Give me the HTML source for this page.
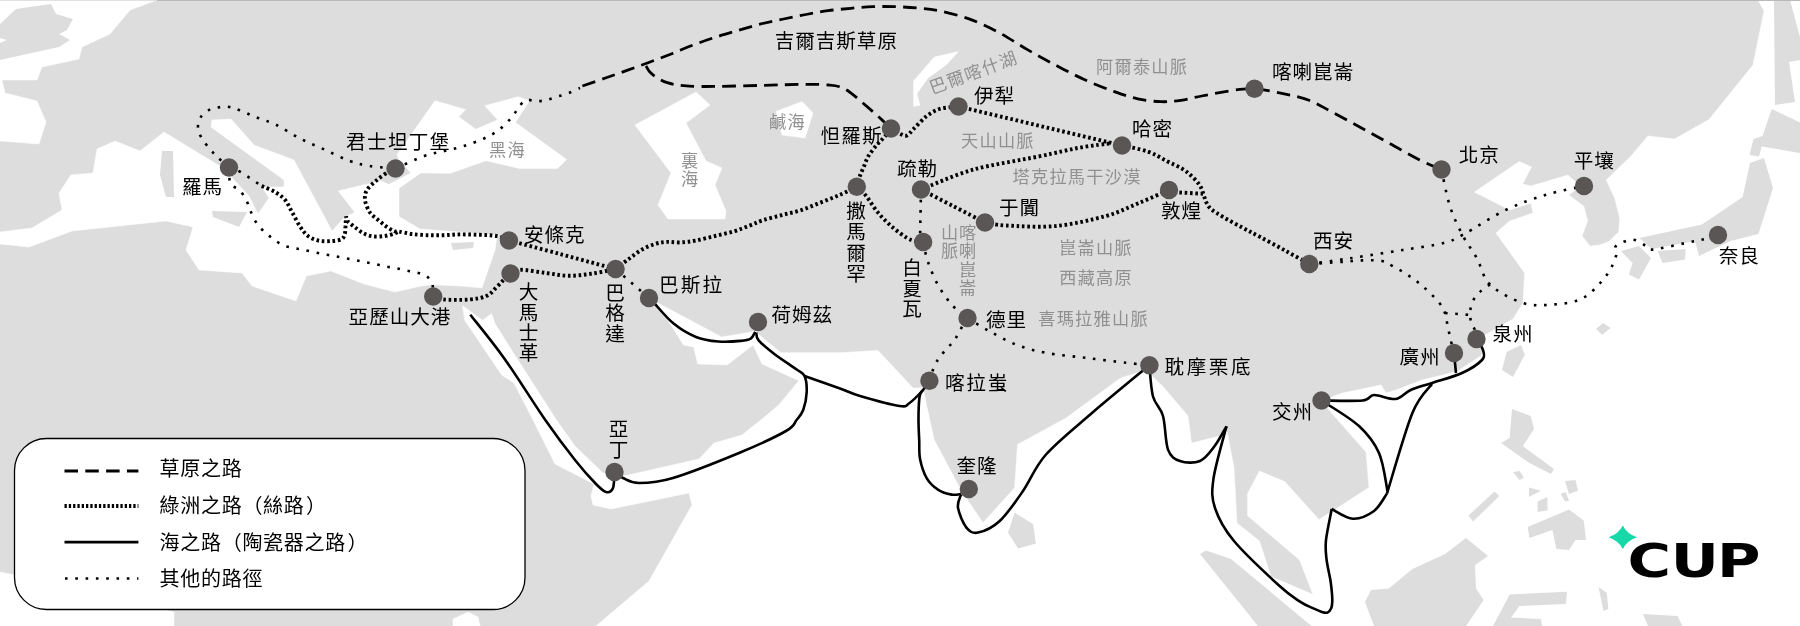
<!DOCTYPE html>
<html lang="zh-Hant"><head><meta charset="utf-8"><title>絲綢之路</title>
<style>html,body{margin:0;padding:0;background:#fff;overflow:hidden}svg{display:block;will-change:transform}</style></head>
<body>
<svg width="1800" height="626" viewBox="0 0 1800 626">
<rect width="1800" height="626" fill="#dddddd"/>
<g fill="#fff" stroke="#fff" stroke-width="0.5" stroke-linejoin="round">
<polygon points="0,0 157,0 130,10 110,34 82,47 79,59 42,67 37,80 2,80 5,93 37,101 46,122 39,144 0,141"/>
<polygon points="0,232 32,228 62,210 59,193 71,175 93,173 97,149 115,141 140,151 164,132 223,168 249,196 258,214 269,198 262,187 284,187 284,180 211,127 212,120 231,119 254,145 294,160 332,231 345.3,216.5 354.9,212.6 338.3,190.9 381,180.7 388.8,184.5 399,188.3 399,216.5 420,229 499,235 497,236 495,250 482,287.8 460,286 432.5,284.7 420,286.3 395,292 363.9,283.9 331,271 306.4,275.9 296,301 252,286 242,273 199,270 186,250 193,227 166,221 72,231 29,247 0,244"/>
<polygon points="397,154.5 435,100.7 465.6,109.6 458.7,116.8 475.8,129.3 497.6,119.8 484.8,105.8 518,96.8 529.5,100.7 515.5,122.4 566.6,159.5 557.6,168.4 519.3,168.4 486,160.7 450.3,173.3 420.7,173 399,188.3 388.8,184.5 410.8,173 399,159.6"/>
<polygon points="635,125 696,92 710,105 686,123 706,161 722,168 715,185 726,211 725,219 668,219 658,205 671,173"/>
<polygon points="776,111.5 802,101.5 813,113 805,138 782,135"/>
<polygon points="913.6,106.6 913.6,81 934.3,57 958.3,51.6 947,64.3 928,78 916.8,93.9 920,105"/>
<polygon points="462.5,305.7 482.6,320.3 491.6,313.6 495,323.6 514,353.8 556.5,420 575,446 603,473 594,484 555,464 533,420 514,383 501.7,375 464.7,320.3"/>
<polygon points="653,300 656.8,302.4 721.7,337 751.9,331.9 757,330 758.6,340 753,345 727.2,365 697.7,363.9 693.7,347 683.6,344.9 657.9,304.6"/>
<polygon points="596,626 649,581 692,505 689,493 611,509 593,505 591,496 594,484 603,473 624,476 699,459 714,443 742,435 760.8,420 778.7,405 798.8,380.7 762,363.9 753,345 756.3,332.6 781,352.7 840,352.7 878,350.5 913,388 923,388 934,439.5 961.5,491 983,522.7 1014.6,487.8 1017.5,444.5 1066,418 1120.5,378 1142,371.4 1149,373 1163,386.5 1188,416 1191.5,443 1219.7,436 1226,426 1234,468 1237,523 1259.5,541 1271,576.6 1313,594.4 1299.6,560 1247.6,515.7 1247.6,493.5 1259.5,471 1284.7,481.6 1319,519.6 1369,487.5 1366,452 1336,418 1321,400.8 1342.6,393 1381,385 1386,393 1396,390 1422,380 1457,371.5 1482,355 1485,335 1513,319 1523,303 1524.6,273 1496,233 1509.6,221 1533,213 1531,203 1509.6,210 1474.5,192 1519.3,161.5 1531.5,167 1522.5,184 1531,186 1568,175 1580,186 1569,195 1584,206.5 1587.7,221 1582,236 1590,246 1599.6,245 1609,241.4 1618.8,231.8 1619.7,218.4 1615,199 1606.3,180 1631,156 1648,136 1674.4,139 1709,119.6 1753,65 1764,11 1758,0 1800,0 1800,626"/>
<polygon points="0,572 40,580 174,612 174,626 0,626"/>
<polygon points="453,619 468,612 478,617 480,626 453,626"/>
</g>
<g fill="#dddddd">
<polygon points="0,24 16,9 51,4 56,14 73,19 67,30 59,34 70,40 59,47 0,60 0,43 7,40 0,38"/>
<polygon points="162,151 173,151 174,197 166,197 160,175"/>
<polygon points="212,211 247,212 239,227 213,217"/>
<polygon points="451,243 474,242 473,248 453,250"/>
<polygon points="1014.6,512.7 1033,524 1036,543.6 1018,548.6 1008,532.6"/>
<polygon points="1200,554 1206,550.5 1231,559 1311.5,626 1258,626"/>
<polygon points="1365,602 1371,590 1388.7,588.5 1412.5,569 1445,554 1466,538 1488,556 1475,565 1476,588.5 1483.7,600 1466,626 1374,626"/>
<polygon points="1468.5,515.5 1494.5,491.5 1499.5,496 1473,521.5"/>
<polygon points="1506.7,352 1521,345 1524.8,354.7 1513,377 1502,370"/>
<polygon points="1596,329 1603,323 1610.7,328 1602,334.7"/>
<polygon points="1512,409 1530.7,416 1534,429 1522.8,446 1554,469 1550.8,474 1529,462.8 1501,443 1509.6,438"/>
<polygon points="1513,472 1519.5,471 1524,477.6 1519.5,480"/>
<polygon points="1529,487.5 1541,490.8 1529,497"/>
<polygon points="1565,481 1575.5,480 1578,490.8 1569,494"/>
<polygon points="1560.7,494 1565.6,492 1569,500.7 1565,501.6"/>
<polygon points="1537.6,501.6 1547.5,497 1547.5,510.5 1537.6,512"/>
<polygon points="1527.7,527 1569,509.5 1583.7,520.4 1586,540 1575.5,540 1569,550 1556.4,549 1552.4,530 1529.4,537.9"/>
<polygon points="1509.6,594.5 1567,591.8 1566,604 1519.5,606 1511,617.5 1541,619 1542,626 1493,626"/>
<polygon points="1598.5,587 1606.7,592.8 1608.4,609 1603.5,611"/>
<polygon points="1643,614 1677.5,616 1682.5,626 1648,626"/>
<polygon points="1621,251 1639,246 1651,258 1639,279.5 1629,274.5 1632.6,263"/>
<polygon points="1657.5,251 1685.7,249 1685,259.6 1662.5,263"/>
<polygon points="1750,163 1763.9,158 1773,188 1758.4,234 1730.4,241 1711.4,250 1699,256 1695,241 1651.6,249 1639.4,238 1702,224.5 1742.7,197"/>
<polygon points="1771.7,109 1800,122.6 1800,153 1761.7,146.5 1759,156.6 1749.5,155 1753.5,139 1762.5,136"/>
<polygon points="1774,0 1790,0 1800,37 1800,60 1789,62 1795,102 1775,105"/>
</g>
<rect x="0" y="0" width="157" height="1" fill="#e0e1e1"/><rect x="157" y="0" width="1643" height="1" fill="#b6baba"/>
<g fill="none" stroke="#000">
<path stroke-width="2.8" stroke-dasharray="13.5 7.3" d="M582.4,86C586.1,84.7 597.3,80.9 604.7,78.3C612.1,75.7 619.5,73.1 627,70.4C634.5,67.7 641.9,65.0 649.4,62.2C656.9,59.4 664.4,56.6 671.8,53.7C679.2,50.8 686.5,47.5 694,44.7C701.5,41.9 709.0,39.3 716.5,36.9C724.0,34.5 731.5,32.4 738.9,30.2C746.3,28.0 753.5,25.8 761,23.9C768.5,22.0 776.1,20.6 783.6,19C791.1,17.4 798.6,15.9 806,14.5C813.4,13.1 820.5,11.7 828,10.7C835.5,9.7 843.2,9.0 850.7,8.3C858.2,7.6 865.5,7.0 873,6.7C880.5,6.4 887.9,6.5 895.4,6.7C902.9,6.9 910.3,7.3 917.7,8C925.1,8.7 931.5,9.2 940,11C948.5,12.8 959.3,15.4 969,18.9C978.7,22.4 988.3,26.9 998,32C1007.7,37.1 1017.3,43.8 1027,49.4C1036.7,55.0 1046.3,60.3 1056,65.4C1065.7,70.5 1075.6,75.6 1085.3,80C1095.0,84.4 1105.7,88.5 1114.4,91.6C1123.1,94.7 1129.9,97.1 1137.7,98.8C1145.5,100.5 1153.8,101.5 1161,101.7C1168.2,102.0 1174.2,101.2 1181,100.3C1187.8,99.3 1193.3,97.6 1201.6,96C1209.9,94.4 1221.9,91.9 1230.7,90.7C1239.5,89.5 1245.8,88.2 1254.5,88.7C1263.2,89.2 1273.9,91.7 1283,93.6C1292.1,95.5 1300.8,97.2 1309,100.3C1317.2,103.4 1323.2,107.4 1332,112C1340.8,116.6 1351.7,122.7 1361.5,128C1371.3,133.3 1380.9,138.7 1390.6,144C1400.3,149.3 1411.2,155.8 1419.7,160C1428.2,164.2 1437.9,167.9 1441.5,169.5"/>
<path stroke-width="2.8" stroke-dasharray="13.5 7.3" d="M646,66C646.6,66.9 647.7,69.7 649.4,71.5C651.1,73.3 653.0,75.1 656,77C659.0,78.9 662.8,81.3 667.3,82.7C671.8,84.1 676.7,85.0 683,85.6C689.3,86.2 692.0,86.5 705,86.5C718.0,86.5 744.2,85.8 761,85.4C777.8,85.0 794.8,84.4 806,84.3C817.2,84.2 822.4,84.6 828,85C833.6,85.4 835.7,85.4 839.5,86.7C843.3,88.0 845.1,88.6 850.7,92.8C856.3,97.0 867.5,107.0 873,111.8C878.5,116.6 881.0,119.0 884,121.8C887.0,124.6 889.8,127.4 891,128.5"/>
<path stroke-width="3.9" stroke-dasharray="2.6 2.73" stroke-linejoin="bevel" d="M261.7,186C263.9,187.0 271.1,189.7 275,192C278.9,194.3 282.2,196.5 285,199.8C287.8,203.1 289.5,207.6 292,212C294.5,216.4 297.3,222.4 300,226.4C302.7,230.4 304.8,233.6 308,236C311.2,238.4 315.2,240.0 319.2,240.8C323.2,241.6 328.3,241.3 332,241C335.7,240.7 339.4,240.3 341.5,239.2C343.6,238.1 344.0,236.5 344.7,234.4C345.4,232.3 345.4,227.7 345.5,226.4L346,216.5L347.9,221.6C349.2,222.7 353.2,226.0 355.9,228C358.6,230.0 361.0,232.2 363.9,233.6C366.8,235.0 369.9,236.0 373.4,236.4C376.8,236.8 381.1,236.5 384.6,236C388.1,235.5 391.8,234.3 394.2,233.6C396.6,232.8 398.2,231.8 399,231.5"/>
<path stroke-width="3.9" stroke-dasharray="2.6 2.73" stroke-linejoin="bevel" d="M395.5,168.5C394.5,168.9 392.6,169.1 389.5,171C386.4,172.9 380.8,176.8 377,180C373.2,183.2 369.0,186.7 367,190C365.0,193.3 364.6,196.1 365,199.8C365.4,203.5 367.4,208.6 369.6,212C371.8,215.4 375.4,217.6 378.2,220C381.0,222.4 383.5,224.5 386.2,226.4C388.9,228.3 392.1,230.3 394.2,231.2C396.3,232.0 396.1,231.0 399,231.5C401.9,232.0 407.0,233.4 411.8,234C416.6,234.6 422.4,235.0 427.7,235.2C433.0,235.4 438.3,235.3 443.7,235.2C449.1,235.1 453.1,234.4 460,234.4C466.9,234.4 478.5,234.7 485,235C491.5,235.3 495.0,235.6 499,236.5C503.0,237.4 507.3,239.8 509,240.5"/>
<path stroke-width="3.9" stroke-dasharray="2.6 2.73" stroke-linejoin="bevel" d="M509,240.5C517.5,242.8 542.2,249.2 560,254C577.8,258.8 606.3,266.5 615.6,269"/>
<path stroke-width="3.9" stroke-dasharray="2.6 2.73" stroke-linejoin="bevel" d="M433.2,296.5C435.1,297.0 438.4,299.0 444.4,299.5C450.4,300.0 462.2,300.1 469.3,299.5C476.4,298.9 482.1,297.9 486.7,295.8C491.3,293.7 493.8,289.7 496.7,287C499.6,284.3 501.7,281.9 504,279.6C506.3,277.4 509.4,274.5 510.5,273.5"/>
<path stroke-width="3.9" stroke-dasharray="2.6 2.73" stroke-linejoin="bevel" d="M510.5,273.5C512.2,272.9 515.1,269.9 521,269.8C526.9,269.7 538.0,272.0 546,273C554.0,274.0 561.2,275.7 569,275.8C576.8,275.9 584.7,274.6 592.5,273.5C600.3,272.4 611.8,269.8 615.6,269"/>
<path stroke-width="3.9" stroke-dasharray="2.6 2.73" stroke-linejoin="bevel" d="M615.6,269C617.8,267.3 624.3,262.2 628.7,259C633.1,255.8 637.5,252.0 642,249.5C646.5,247.0 651.4,245.1 655.6,243.8C659.8,242.5 662.9,242.1 667,241.9C671.1,241.7 675.7,242.6 680.5,242.4C685.3,242.2 690.0,241.6 695.8,240.5C701.5,239.4 708.6,237.5 715,236C721.4,234.5 728.2,233.0 734,231.3C739.8,229.6 744.7,227.4 749.5,225.6C754.3,223.8 757.6,222.0 763,220.2C768.4,218.4 775.7,216.7 782,215C788.3,213.3 794.6,212.3 801,210.2C807.4,208.1 814.0,205.1 820.4,202.6C826.8,200.1 833.5,197.6 839.6,195C845.7,192.4 853.9,188.2 856.8,186.8"/>
<path stroke-width="3.9" stroke-dasharray="2.6 2.73" stroke-linejoin="bevel" d="M856.8,186.8C857.2,185.2 858.4,180.2 859.5,177C860.6,173.8 862.0,170.9 863.5,167.5C865.0,164.1 866.1,160.1 868.3,156.3C870.5,152.6 874.1,148.1 876.7,145C879.3,141.9 881.6,140.2 884,137.5C886.4,134.8 889.8,130.0 891,128.5"/>
<path stroke-width="3.9" stroke-dasharray="2.6 2.73" stroke-linejoin="bevel" d="M891,128.5C892.4,129.3 896.9,132.3 899.5,133.5C902.1,134.7 904.2,136.4 906.6,135.6C909.0,134.8 910.6,131.8 913.8,128.7C917.0,125.6 921.8,120.0 925.8,116.8C929.8,113.6 933.8,111.2 937.8,109.6C941.8,108.0 946.3,107.7 949.8,107.2C953.2,106.7 957.0,106.6 958.5,106.5"/>
<path stroke-width="3.9" stroke-dasharray="2.6 2.73" stroke-linejoin="bevel" d="M958.5,106.5L1122,145.5"/>
<path stroke-width="3.9" stroke-dasharray="2.6 2.73" stroke-linejoin="bevel" d="M1122,145.5C1126.3,146.5 1140.5,149.0 1148,151.6C1155.5,154.2 1161.3,158.3 1167,161.2C1172.7,164.1 1178.2,166.3 1182.4,168.9C1186.6,171.5 1189.1,173.8 1192,176.5C1194.9,179.2 1197.7,182.1 1199.6,185C1201.5,187.9 1202.3,190.9 1203.4,193.8C1204.5,196.7 1205.0,199.9 1206.3,202.4C1207.6,204.9 1208.3,206.6 1211,209C1213.7,211.4 1217.5,213.6 1222.6,216.7C1227.7,219.8 1235.6,223.9 1241.8,227.3C1248.0,230.7 1252.8,233.0 1260,236.9C1267.2,240.8 1276.8,246.0 1285,250.5C1293.2,255.0 1305.2,261.8 1309.3,264"/>
<path stroke-width="3.9" stroke-dasharray="2.6 2.73" stroke-linejoin="bevel" d="M921,189.5C929.7,186.2 953.3,175.2 973,169.7C992.7,164.2 1021.2,160.1 1039,156.4C1056.8,152.7 1067.8,149.8 1080,147.6C1092.2,145.4 1106.7,143.9 1112,143.2"/>
<path stroke-width="3.9" stroke-dasharray="2.6 2.73" stroke-linejoin="bevel" d="M921,189.5C926.3,192.2 942.3,200.5 953,206C963.7,211.5 979.7,219.8 985,222.5"/>
<path stroke-width="3.9" stroke-dasharray="2.6 2.73" stroke-linejoin="bevel" d="M985,222.5C988.5,223.0 994.2,224.9 1006,225.5C1017.8,226.1 1039.4,227.6 1056,226C1072.6,224.4 1092.0,219.8 1105.8,216C1119.6,212.2 1128.5,207.3 1139,203C1149.5,198.7 1164.0,192.2 1169,190"/>
<path stroke-width="3.9" stroke-dasharray="2.6 2.73" stroke-linejoin="bevel" d="M1169,190L1178.5,192.4L1203,193.8"/>
<path stroke-width="3.9" stroke-dasharray="2.6 2.73" stroke-linejoin="bevel" d="M856.8,186.8C858.3,188.3 862.5,191.5 866,195.8C869.5,200.1 873.6,207.4 878,212.6C882.4,217.8 887.5,222.8 892.3,227C897.1,231.2 902.6,235.3 906.6,237.7C910.6,240.1 913.2,240.6 916,241.3C918.8,242.0 922.0,241.9 923.2,242"/>
<path stroke-width="2.6" stroke-dasharray="2.6 7.7" d="M229,167.5C226.5,165.2 218.5,158.4 214,153.6C209.5,148.8 204.7,143.0 202,138.6C199.3,134.2 198.2,130.9 198,127.4C197.8,123.9 198.8,120.3 200.6,117.4C202.4,114.5 206.1,111.7 209,110C211.9,108.3 214.8,108.0 218,107.5C221.2,107.0 224.5,106.3 228,106.7C231.5,107.1 234.2,108.2 239,110C243.8,111.8 250.4,114.9 256.7,117.4C263.0,119.9 269.4,121.5 276.6,125C283.8,128.5 292.0,134.4 300,138.5C308.0,142.6 316.5,145.9 324.8,149.7C333.1,153.4 342.2,158.3 349.7,161C357.2,163.7 362.0,164.8 369.6,166C377.2,167.2 391.2,168.1 395.5,168.5"/>
<path stroke-width="2.6" stroke-dasharray="2.6 7.7" d="M395.5,168.5C400.3,166.4 416.2,158.9 424.4,156C432.5,153.1 437.8,152.7 444.4,151C451.0,149.3 457.4,148.1 464,146C470.6,143.9 478.2,141.2 484,138.5C489.8,135.8 494.4,133.3 499,129.8C503.6,126.3 508.1,121.5 511.7,117.3C515.3,113.1 517.9,107.8 520.4,104.9C522.9,102.0 524.3,100.6 527,100C529.7,99.4 533.2,101.2 536.4,101.2C539.6,101.2 542.7,100.9 546,100.2C549.3,99.5 552.8,97.9 556.4,96.8C560.0,95.7 563.9,95.0 567.8,93.5C571.7,92.0 578.0,88.9 580,88"/>
<path stroke-width="2.6" stroke-dasharray="2.6 7.7" d="M229,167.5C230.9,168.2 235.1,168.9 240.5,172C245.9,175.1 258.2,183.7 261.7,186"/>
<path stroke-width="2.6" stroke-dasharray="2.6 7.7" d="M229,167.5C229.2,170.2 228.8,179.8 230.5,183.5C232.2,187.2 236.5,187.2 239,189.7C241.5,192.2 243.8,195.4 245.5,198.4C247.2,201.4 248.0,204.5 249.2,207.5C250.4,210.5 251.4,213.5 252.9,216.5C254.4,219.5 256.2,222.8 258.3,225.5C260.4,228.2 263.3,230.8 265.8,233C268.3,235.2 270.6,237.0 273.3,239C276.1,241.0 279.1,243.5 282.3,245C285.6,246.5 289.5,247.2 292.8,248C296.1,248.8 299.1,248.8 302.4,249.5C305.7,250.2 309.3,251.2 312.8,251.9C316.3,252.7 319.8,253.3 323.2,254C326.6,254.7 330.1,255.2 333.5,255.9C336.9,256.6 340.4,257.3 343.9,258C347.4,258.7 350.9,259.2 354.3,259.9C357.7,260.6 360.9,261.3 364.2,262C367.5,262.7 370.9,263.2 374.3,263.9C377.7,264.6 381.2,265.6 384.6,266.3C388.1,267.0 391.5,267.2 395,267.9C398.5,268.6 401.9,269.6 405.4,270.3C408.9,271.1 412.4,271.5 415.8,272.4C419.2,273.3 423.1,273.7 425.8,275.6C428.5,277.5 431.0,280.1 432.2,283.6C433.4,287.1 433.0,294.4 433.2,296.5"/>
<path stroke-width="2.6" stroke-dasharray="2.6 7.7" d="M615.6,269L649,298"/>
<path stroke-width="2.6" stroke-dasharray="2.6 7.7" d="M921,189.5L920,241"/>
<path stroke-width="2.6" stroke-dasharray="2.6 7.7" d="M923.2,242C924.0,245.3 925.5,254.8 928,262C930.5,269.2 934.0,277.8 938,285C942.0,292.2 947.1,299.5 952,305C956.9,310.5 964.9,315.8 967.5,318"/>
<path stroke-width="2.6" stroke-dasharray="2.6 7.7" d="M967.5,318C966.1,320.3 961.5,327.7 959.2,331.6C956.9,335.5 956.0,338.4 953.9,341.2C951.8,344.0 949.1,345.8 946.8,348.4C944.5,351.0 942.3,353.9 940.3,356.7C938.3,359.5 936.5,361.2 934.7,365.2C932.9,369.2 930.3,378.1 929.4,380.7"/>
<path stroke-width="2.6" stroke-dasharray="2.6 7.7" d="M967.5,318C971.2,320.2 981.5,326.9 989.6,331.3C997.7,335.7 1006.6,341.0 1016,344.6C1025.4,348.2 1034.3,350.7 1046,352.9C1057.7,355.1 1072.7,356.2 1086,357.9C1099.3,359.5 1115.4,361.6 1126,362.8C1136.6,364.0 1145.5,364.8 1149.4,365.2"/>
<path stroke-width="2.6" stroke-dasharray="2.6 7.7" d="M1309.3,264C1314.6,263.3 1332.2,260.9 1341,259.6C1349.8,258.4 1351.5,258.1 1361.8,256.5C1372.1,254.9 1389.1,252.2 1402.7,250C1416.3,247.8 1433.5,245.6 1443.6,243C1453.6,240.4 1452.6,240.2 1463,234.7C1473.4,229.2 1492.2,216.5 1506,209.8C1519.8,203.2 1533.0,198.8 1546,194.8C1559.0,190.8 1577.7,187.5 1584,186"/>
<path stroke-width="2.6" stroke-dasharray="2.6 7.7" d="M1309.3,264C1314.6,263.7 1332.2,262.6 1341,262C1349.8,261.4 1355.0,260.6 1361.8,260.4C1368.6,260.2 1376.9,260.1 1382,261C1387.1,261.9 1388.2,263.7 1392.5,266C1396.8,268.3 1402.7,271.6 1407.8,275C1412.9,278.4 1417.9,282.0 1423,286.5C1428.1,291.0 1434.8,297.4 1438.5,301.8C1442.2,306.2 1443.5,309.2 1445,313C1446.5,316.8 1446.5,320.3 1447.4,324.8C1448.4,329.3 1449.6,335.3 1450.7,340C1451.8,344.7 1453.5,350.8 1454,353"/>
<path stroke-width="2.6" stroke-dasharray="2.6 7.7" d="M1445,313L1470.4,315"/>
<path stroke-width="2.6" stroke-dasharray="2.6 7.7" d="M1441.5,169.5C1442.9,175.7 1446.4,195.4 1450,206.5C1453.6,217.6 1458.5,227.4 1463,236C1467.5,244.6 1472.3,249.9 1476.8,258C1481.3,266.1 1482.3,277.0 1490,284.5C1497.7,292.0 1512.5,299.7 1523,303C1533.5,306.3 1543.0,305.3 1553,304.5C1563.0,303.7 1574.2,302.8 1583,298C1591.8,293.2 1600.5,283.0 1606,276C1611.5,269.0 1614.3,261.0 1616,256C1617.7,251.0 1613.2,248.7 1616,246C1618.8,243.3 1627.6,239.7 1632.6,239.7C1637.6,239.7 1642.7,244.3 1646,246C1649.3,247.7 1645.9,250.1 1652.5,249.6C1659.1,249.1 1676.3,244.9 1685.7,243C1695.1,241.1 1703.6,239.3 1709,238C1714.4,236.7 1716.5,235.5 1718,235"/>
<path stroke-width="2.6" stroke-dasharray="2.6 7.7" d="M1490,284.5C1488.7,285.4 1484.7,287.6 1482,290C1479.3,292.4 1475.9,295.8 1474,299C1472.1,302.2 1470.9,305.7 1470.4,309.5C1469.9,313.3 1470.2,318.4 1471,322C1471.8,325.6 1474.6,328.2 1475.5,331C1476.4,333.8 1476.3,337.7 1476.5,339"/>
<path stroke-width="2.6" stroke-linejoin="round" d="M470.3,314.7C476.1,322.1 492.5,341.8 505,359.4C517.5,376.9 533.6,403.2 545.3,420C557.0,436.8 566.5,449.3 575,460C583.5,470.7 590.8,478.7 596,484C601.2,489.3 603.2,491.3 606,492C608.8,492.7 611.6,491.3 613,488C614.4,484.7 614.2,474.7 614.5,472"/>
<path stroke-width="2.6" stroke-linejoin="round" d="M614.5,472C615.9,473.0 618.9,476.2 623,478C627.1,479.8 630.7,483.0 639,483C647.3,483.0 656.3,483.0 673,478C689.7,473.0 720.2,460.8 739,453C757.8,445.2 776.4,436.5 786,431C795.6,425.5 793.7,423.5 796.6,420C799.5,416.5 801.6,414.5 803.3,409.8C805.0,405.1 806.5,397.5 806.7,391.9C806.9,386.3 806.2,379.7 804.5,376C802.8,372.3 801.7,373.2 796.6,369.5C791.5,365.8 780.3,358.7 774,353.8C767.7,348.9 761.6,343.9 758.6,340.4C755.6,336.9 756.7,333.9 756.3,332.6"/>
<path stroke-width="2.6" stroke-linejoin="round" d="M649,298C649.9,298.9 650.4,299.2 654.5,303.5C658.6,307.8 666.7,318.0 673.6,323.6C680.5,329.2 688.5,334.0 695.9,337C703.3,340.0 710.8,340.9 718.3,341.5C725.8,342.1 735.3,341.4 740.7,340.9C746.1,340.4 748.3,340.1 750.7,338.6C753.1,337.1 754.5,333.0 755.2,331.9"/>
<path stroke-width="2.6" stroke-linejoin="round" d="M804.5,376C810.4,378.1 830.8,385.2 840,388.5C849.2,391.8 850.1,393.1 860,396C869.9,398.9 891.2,404.8 899.5,406C907.8,407.2 905.6,405.7 909.5,403C913.4,400.3 919.7,393.7 923,390C926.3,386.3 928.3,382.2 929.4,380.7"/>
<path stroke-width="2.6" stroke-linejoin="round" d="M923,390C922.4,391.2 920.2,392.0 919.5,397C918.8,402.0 918.5,412.8 918.5,420C918.5,427.2 918.9,433.5 919.2,440C919.5,446.5 918.8,452.8 920.1,459.2C921.4,465.6 923.8,473.2 926.8,478.3C929.8,483.4 934.1,487.1 938.3,489.8C942.4,492.5 947.9,493.9 951.7,494.6C955.5,495.3 959.5,494.1 961,494"/>
<path stroke-width="2.6" stroke-linejoin="round" d="M961,494.4C960.5,496.6 957.1,502.2 958,507.7C958.9,513.2 963.1,523.5 966.4,527.6C969.7,531.8 972.5,533.7 978,532.6C983.5,531.5 992.2,527.9 999.7,521C1007.2,514.1 1015.3,502.1 1023,491C1030.7,479.9 1034.5,467.5 1046,454.5C1057.5,441.5 1074.8,427.9 1092,413C1109.2,398.1 1139.8,373.2 1149.4,365.2"/>
<path stroke-width="2.6" stroke-linejoin="round" d="M1149.4,365.2C1150.0,370.4 1150.7,388.0 1153,396.5C1155.3,405.0 1160.5,407.1 1163,416C1165.5,424.9 1165.2,442.1 1168,449.6C1170.8,457.1 1174.7,459.1 1180,461C1185.3,462.9 1194.2,463.5 1200,461C1205.8,458.5 1210.3,451.8 1214.7,446C1219.1,440.2 1224.5,429.6 1226.5,426.3"/>
<path stroke-width="2.6" stroke-linejoin="round" d="M1226.5,426.3C1224.3,435.0 1215.4,465.0 1213.5,478.6C1211.6,492.2 1211.6,497.6 1215,508C1218.4,518.4 1223.3,528.1 1234,541C1244.7,553.9 1268.0,575.4 1279,585.5C1290.0,595.6 1294.4,597.9 1300,601.7C1305.6,605.5 1309.1,606.4 1312.8,608.1C1316.5,609.8 1319.5,611.2 1322,612C1324.5,612.8 1326.0,613.2 1327.5,612.6C1329.0,612.0 1330.5,610.0 1331.3,608.1C1332.1,606.2 1332.2,603.7 1332.3,601.1C1332.4,598.5 1332.2,596.3 1331.9,592.8C1331.6,589.3 1331.3,585.6 1330.4,580C1329.5,574.4 1327.2,565.7 1326.5,559C1325.8,552.3 1325.1,548.3 1326,540C1326.9,531.7 1330.8,514.2 1331.7,509"/>
<path stroke-width="2.6" stroke-linejoin="round" d="M1331.7,509C1335.2,510.6 1346.0,518.4 1353,518.7C1360.0,519.0 1368.3,515.2 1374,511C1379.7,506.8 1384.8,496.4 1387,493.5"/>
<path stroke-width="2.6" stroke-linejoin="round" d="M1387,493.5C1391.2,480.1 1404.9,431.2 1412.4,413C1419.9,394.8 1428.7,388.8 1432,384"/>
<path stroke-width="2.6" stroke-linejoin="round" d="M1321.5,400.5C1327.8,404.8 1349.4,417.2 1359,426C1368.6,434.8 1374.2,442.2 1379,453C1383.8,463.8 1386.1,484.7 1387.5,491"/>
<path stroke-width="2.6" stroke-linejoin="round" d="M1321.5,400.5C1328.3,400.5 1353.8,401.4 1362.5,400.5C1371.2,399.6 1368.5,395.2 1374,395C1379.5,394.8 1389.7,399.8 1395.8,399C1401.9,398.2 1404.7,392.7 1410.7,390C1416.7,387.3 1423.5,385.8 1432,383C1440.5,380.2 1453.7,376.8 1462,373C1470.3,369.2 1478.5,363.8 1482,360C1485.5,356.2 1483.9,353.5 1483,350C1482.1,346.5 1477.6,340.8 1476.5,339"/>
<path stroke-width="2.6" stroke-linejoin="round" d="M1454,353L1456,373"/>
</g>
<g fill="#5a5656">
<circle cx="229" cy="167.5" r="9.2"/>
<circle cx="395.5" cy="168.5" r="9.2"/>
<circle cx="509" cy="240.5" r="9.2"/>
<circle cx="510.5" cy="273.5" r="9.2"/>
<circle cx="433.2" cy="296.5" r="9.2"/>
<circle cx="615.6" cy="269" r="9.2"/>
<circle cx="649" cy="298" r="9.2"/>
<circle cx="758" cy="322" r="9.2"/>
<circle cx="614.5" cy="472" r="9.2"/>
<circle cx="891" cy="128.5" r="9.2"/>
<circle cx="958.5" cy="106.5" r="9.2"/>
<circle cx="1122" cy="145.5" r="9.2"/>
<circle cx="1169" cy="190" r="9.2"/>
<circle cx="921" cy="189.5" r="9.2"/>
<circle cx="985" cy="222.5" r="9.2"/>
<circle cx="856.8" cy="186.8" r="9.2"/>
<circle cx="923.2" cy="242" r="9.2"/>
<circle cx="967.5" cy="318" r="9.2"/>
<circle cx="1254.5" cy="88.7" r="9.2"/>
<circle cx="1441.5" cy="169.5" r="9.2"/>
<circle cx="1584" cy="186" r="9.2"/>
<circle cx="1718" cy="235" r="9.2"/>
<circle cx="1309.3" cy="264" r="9.2"/>
<circle cx="1476.5" cy="339" r="9.2"/>
<circle cx="1454" cy="353" r="9.2"/>
<circle cx="1321.5" cy="400.5" r="9.2"/>
<circle cx="1149.4" cy="365.2" r="9.2"/>
<circle cx="929.4" cy="380.7" r="9.2"/>
<circle cx="968.8" cy="489" r="9.2"/>
</g>
<rect x="14.5" y="438.5" width="510.5" height="171" rx="32" ry="32" fill="#fff" stroke="#000" stroke-width="1.3"/>
<g fill="none" stroke="#000">
<path stroke-width="2.8" stroke-dasharray="13.5 7.3" stroke-width="3" d="M64.5,471H138.4"/>
<path stroke-width="4" stroke-dasharray="2.3 2" d="M64.5,506H138.4"/>
<path stroke-width="2.7" d="M64.5,542.2H138.4"/>
<path stroke-width="2.6" stroke-dasharray="2.6 7.7" d="M65,578.5H138.4"/>
</g>
<g font-family='"Liberation Sans","Noto Sans CJK TC",sans-serif' font-size="19.6" font-weight="400" fill="#000">
<text x="159.6" y="476.2" font-size="20" letter-spacing="0.7">草原之路</text>
<text x="159.6" y="512.8" font-size="20" letter-spacing="0.7">綠洲之路（絲路<tspan dx="1.6">）</tspan></text>
<text x="159.6" y="549.5" font-size="20" letter-spacing="0.7">海之路（陶瓷器之路<tspan dx="1.6">）</tspan></text>
<text x="159.6" y="586.1" font-size="20" letter-spacing="0.7">其他的路徑</text>
<text x="774.7" y="47.8" letter-spacing="0.95">吉爾吉斯草原</text>
<text x="1272" y="78.8" letter-spacing="0.95">喀喇崑崙</text>
<text x="974" y="102.8" letter-spacing="0.95">伊犁</text>
<text x="1132" y="135.8" letter-spacing="0.95">哈密</text>
<text x="820.8" y="143.1" letter-spacing="0.95">怛羅斯</text>
<text x="897" y="175.9" letter-spacing="0.95">疏勒</text>
<text x="999" y="214.8" letter-spacing="0.95">于闐</text>
<text x="1161" y="217.8" letter-spacing="0.95">敦煌</text>
<text x="524" y="241.9" letter-spacing="0.95">安條克</text>
<text x="346" y="148.8" letter-spacing="1.35">君士坦丁堡</text>
<text x="182" y="193.8" letter-spacing="0.95">羅馬</text>
<text x="348.6" y="324.1" letter-spacing="0.95">亞歷山大港</text>
<text x="659" y="292.2" letter-spacing="2.15">巴斯拉</text>
<text x="771.5" y="321.8" letter-spacing="0.95">荷姆茲</text>
<text x="945" y="390.2" letter-spacing="1.75">喀拉蚩</text>
<text x="956.5" y="473.2" letter-spacing="0.95">奎隆</text>
<text x="986" y="326.8" letter-spacing="0.95">德里</text>
<text x="1164.5" y="373.8" letter-spacing="2.55">耽摩栗底</text>
<text x="1272" y="419.2" letter-spacing="0.95">交州</text>
<text x="1399.5" y="363.8" letter-spacing="0.95">廣州</text>
<text x="1492.5" y="341.4" letter-spacing="0.95">泉州</text>
<text x="1313" y="247.8" letter-spacing="0.95">西安</text>
<text x="1458.7" y="161.6" letter-spacing="0.95">北京</text>
<text x="1573.7" y="167.9" letter-spacing="0.95">平壤</text>
<text x="1718.7" y="263.4" letter-spacing="0.95">奈良</text>
<text x="856 856 856 856" y="217.5 238.5 259.6 280.6" text-anchor="middle">撒馬爾罕</text>
<text x="912 912 912" y="275.4 295.9 316.4" text-anchor="middle">白夏瓦</text>
<text x="528.5 528.5 528.5 528.5" y="299.4 319.7 340.0 360.2" text-anchor="middle">大馬士革</text>
<text x="615 615 615" y="299.9 320.2 340.5" text-anchor="middle">巴格達</text>
<text x="618.5 618.5" y="436.4 456.9" text-anchor="middle">亞丁</text>
</g>
<g font-family='"Liberation Sans","Noto Sans CJK TC",sans-serif' font-size="17.2" font-weight="400" fill="#909090">
<text x="489" y="155.8" letter-spacing="1.25">黑海</text>
<text x="769" y="128.3" letter-spacing="1.25">鹹海</text>
<text x="1096" y="73.3" letter-spacing="1.25">阿爾泰山脈</text>
<text x="961" y="147.3" letter-spacing="1.25">天山山脈</text>
<text x="1012.5" y="182.8" letter-spacing="1.25">塔克拉馬干沙漠</text>
<text x="1059" y="253.8" letter-spacing="1.25">崑崙山脈</text>
<text x="1059.2" y="283.8" letter-spacing="1.25">西藏高原</text>
<text x="1038.2" y="324.8" letter-spacing="1.25">喜瑪拉雅山脈</text>
<text x="689.5 689.5" y="166.5 185.0" text-anchor="middle">裏海</text>
<text x="967.5 967.5 967.5 967.5" y="238.5 257.0 275.5 294.0" text-anchor="middle">喀喇崑崙</text>
<text x="949.5 949.5" y="238.5 257.0" text-anchor="middle">山脈</text>
<text transform="translate(973.5,72.3) rotate(-20)" x="0" y="6.3" text-anchor="middle" letter-spacing="1.4">巴爾喀什湖</text>
</g>
<path fill="#16d8a8" d="M1608.6,537.2 Q1618.7,533.8 1622.8,525.4 Q1626.9,533.8 1637,537.2 Q1626.9,540.6 1622.8,549 Q1618.7,540.6 1608.6,537.2Z"/>
<text transform="scale(1.28,1)" x="1271.5 1305.3 1341.5" y="577.5" font-family='"DejaVu Sans","Liberation Sans",sans-serif' font-weight="bold" font-size="46.3" fill="#000">CUP</text>
</svg>
</body></html>
